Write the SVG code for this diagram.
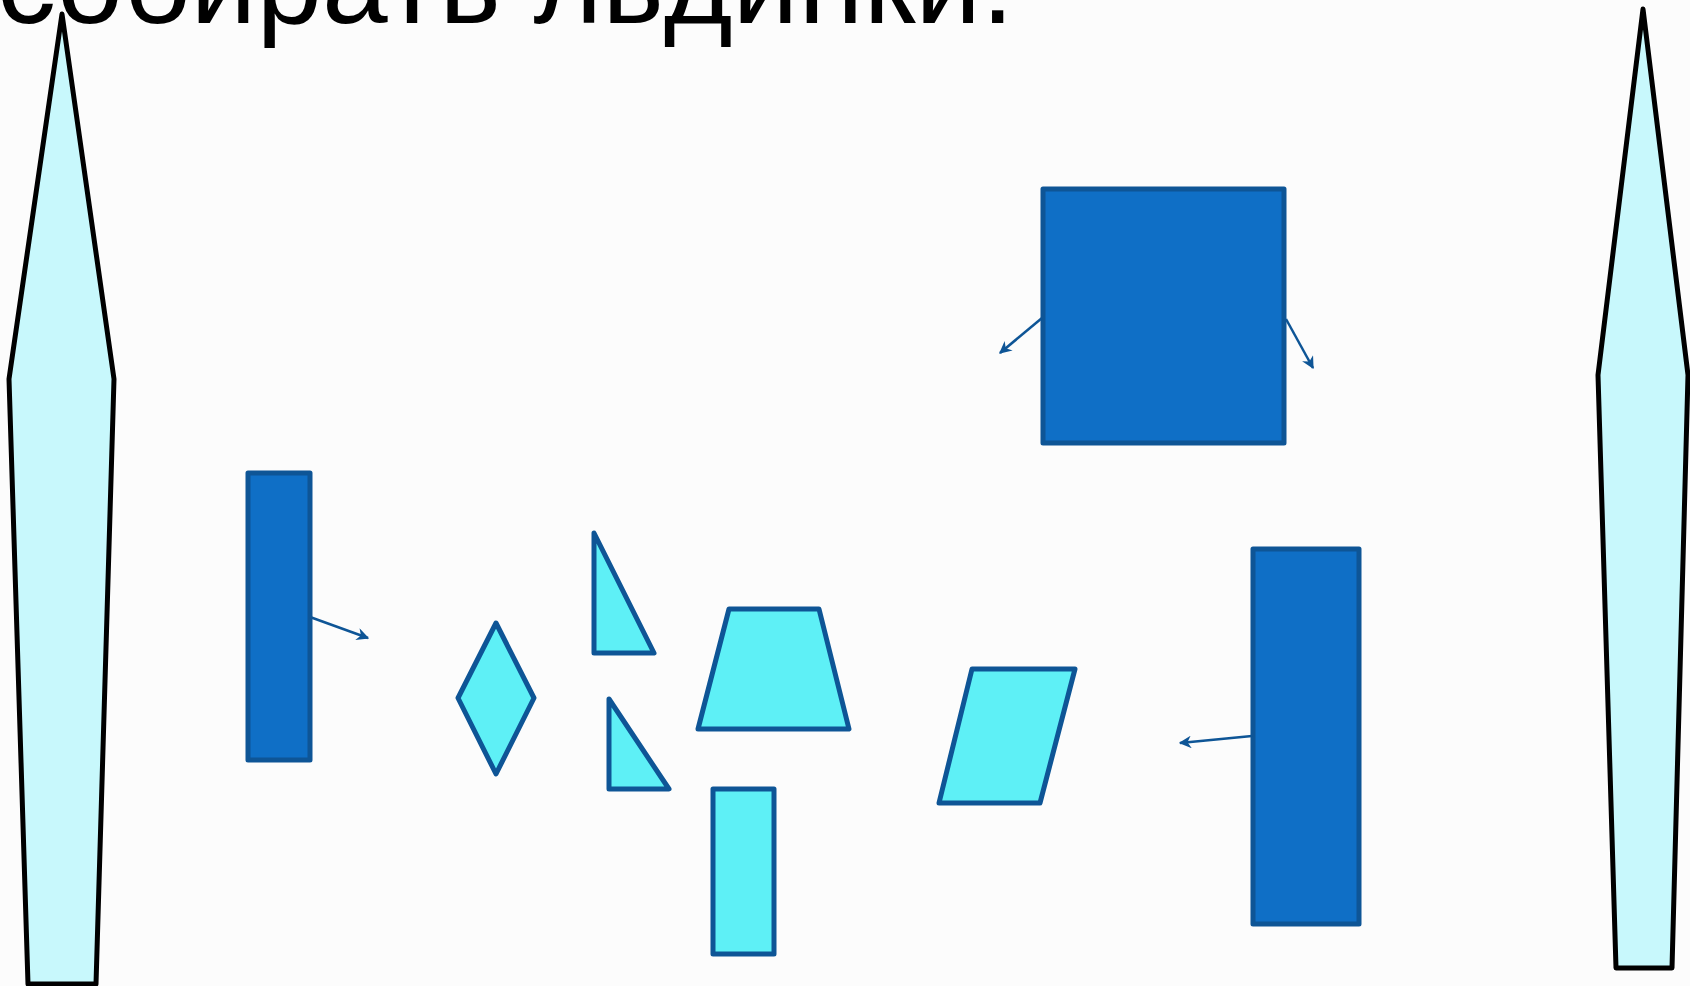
<svg xmlns="http://www.w3.org/2000/svg" width="1690" height="986" viewBox="0 0 1690 986">
<style>
.pencil{fill:#C8F8FC;stroke:#000;stroke-width:5;stroke-linejoin:round}
.dark{fill:#0F6FC6;stroke:#0E5596;stroke-width:5;stroke-linejoin:round}
.light{fill:#5EF0F6;stroke:#0E5596;stroke-width:5;stroke-linejoin:round}
.conn{stroke:#0E5596;stroke-width:2.5;fill:none;marker-end:url(#ah)}
.title{font-family:"Liberation Sans",Arial,sans-serif;font-size:118px;fill:#000}
</style>
<defs>
<marker id="ah" viewBox="0 0 10 10" refX="9" refY="5" markerWidth="5" markerHeight="5" orient="auto" markerUnits="strokeWidth">
<path d="M0,0 L10,5 L0,10 L3,5 Z" fill="#0E5596"/>
</marker>
</defs>
<rect width="1690" height="986" fill="#FCFCFC"/>
<text class="title" x="1014" y="23" text-anchor="end">собирать льдинки.</text>
<g id="pencil-left"><polygon class="pencil" points="62,14 114,379 96,984 28,984 9,379"/></g>
<g id="pencil-right"><polygon class="pencil" points="1643,9 1688,375 1672,968 1616,968 1598,375"/></g>
<g id="big-square"><rect class="dark" x="1043" y="189" width="241" height="254"/></g>
<g id="tall-rect-left"><rect class="dark" x="248" y="473" width="62" height="287"/></g>
<g id="tall-rect-right"><rect class="dark" x="1253" y="549" width="106" height="375"/></g>
<g id="diamond"><polygon class="light" points="496,623 534,698 496,774 458,698"/></g>
<g id="triangle-1"><polygon class="light" points="594,533 654,653 594,653"/></g>
<g id="triangle-2"><polygon class="light" points="609,699 669,789 609,789"/></g>
<g id="trapezoid"><polygon class="light" points="729,609 819,609 849,729 698,729"/></g>
<g id="small-rect"><rect class="light" x="713" y="789" width="61" height="165"/></g>
<g id="parallelogram"><polygon class="light" points="972,669 1075,669 1040,803 939,803"/></g>
<g id="connectors">
<line class="conn" x1="1042" y1="318" x2="1000" y2="353"/>
<line class="conn" x1="1286" y1="319" x2="1313" y2="368"/>
<line class="conn" x1="310" y1="617" x2="368" y2="638"/>
<line class="conn" x1="1252" y1="736" x2="1180" y2="743"/>
</g>
</svg>
